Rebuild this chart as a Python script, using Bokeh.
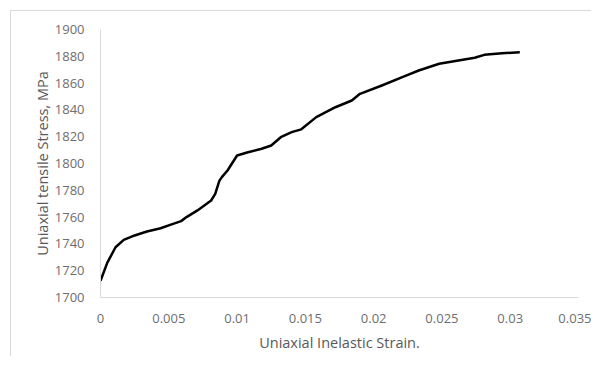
from bokeh.plotting import figure
from bokeh.layouts import column
from bokeh.models import ColumnDataSource, Range1d, FixedTicker
from bokeh.embed import file_html
from bokeh.resources import INLINE

# Data
strain = [0.0, 0.0005, 0.0011, 0.0017, 0.0025, 0.0034, 0.0044, 0.0051, 0.0059, 0.0063,
          0.0071, 0.0077, 0.0081, 0.0084, 0.0087, 0.0089, 0.0093, 0.0100, 0.0108, 0.0118,
          0.0125, 0.0132, 0.0140, 0.0147, 0.0158, 0.0172, 0.0184, 0.0190, 0.0206, 0.0221,
          0.0233, 0.0248, 0.0262, 0.0274, 0.0281, 0.0294, 0.0307]
stress = [1712.5, 1726.0, 1737.5, 1743.0, 1746.3, 1749.3, 1751.7, 1754.2, 1757.0, 1760.0,
          1765.0, 1769.4, 1772.4, 1777.4, 1787.0, 1790.0, 1794.8, 1806.0, 1808.4, 1811.0,
          1813.4, 1819.6, 1823.4, 1825.5, 1834.6, 1842.0, 1847.0, 1852.0, 1858.2, 1864.4,
          1869.4, 1874.4, 1876.9, 1878.9, 1881.1, 1882.3, 1883.0]

x_ticks = [0.0, 0.005, 0.01, 0.015, 0.02, 0.025, 0.03, 0.035]
x_tick_labels = ["0", "0.005", "0.01", "0.015", "0.02", "0.025", "0.03", "0.035"]
y_ticks = [1700, 1720, 1740, 1760, 1780, 1800, 1820, 1840, 1860, 1880, 1900]
y_tick_labels = [str(v) for v in y_ticks]

x_title = "Uniaxial Inelastic Strain."
y_title = "Uniaxial tensile Stress, MPa"

FONT = "Open Sans"
GRAY_TXT = "#6e6e6e"
AXIS_LINE = "#d9d9d9"

p = figure(width=580, height=345, output_backend="svg", toolbar_location=None,
           x_range=Range1d(0, 0.035), y_range=Range1d(1700, 1900),
           min_border_left=89, min_border_right=13, min_border_top=18, min_border_bottom=59)

src = ColumnDataSource(data=dict(x=strain, y=stress))
p.line("x", "y", source=src, line_color="black", line_width=2.5, line_join="round")

p.xgrid.visible = False
p.ygrid.visible = False
p.outline_line_color = None
p.background_fill_color = "white"
p.border_fill_color = "white"

p.xaxis.ticker = FixedTicker(ticks=x_ticks)
p.xaxis.major_label_overrides = {t: l for t, l in zip(x_ticks, x_tick_labels)}
p.yaxis.ticker = FixedTicker(ticks=y_ticks)
p.yaxis.major_label_overrides = {t: l for t, l in zip(y_ticks, y_tick_labels)}

for ax in (p.xaxis[0], p.yaxis[0]):
    ax.axis_line_color = AXIS_LINE
    ax.axis_line_width = 1
    ax.major_tick_line_color = None
    ax.minor_tick_line_color = None
    ax.major_label_text_font = FONT
    ax.major_label_text_font_size = "13px"
    ax.major_label_text_color = GRAY_TXT
    ax.axis_label_text_font = FONT
    ax.axis_label_text_font_size = "14.5px"
    ax.axis_label_text_font_style = "normal"
    ax.axis_label_text_color = "#595959"

p.xaxis.axis_label = x_title
p.yaxis.axis_label = y_title
p.xaxis.major_label_standoff = 10
p.yaxis.major_label_standoff = 10
p.xaxis.axis_label_standoff = 7
p.yaxis.axis_label_standoff = 0

layout = column(p, styles={"border-left": "1px solid #d9d9d9",
                           "border-top": "1px solid #d9d9d9",
                           "margin-left": "10px", "margin-top": "10px"})

open("out.html", "w").write(file_html(layout, INLINE))
